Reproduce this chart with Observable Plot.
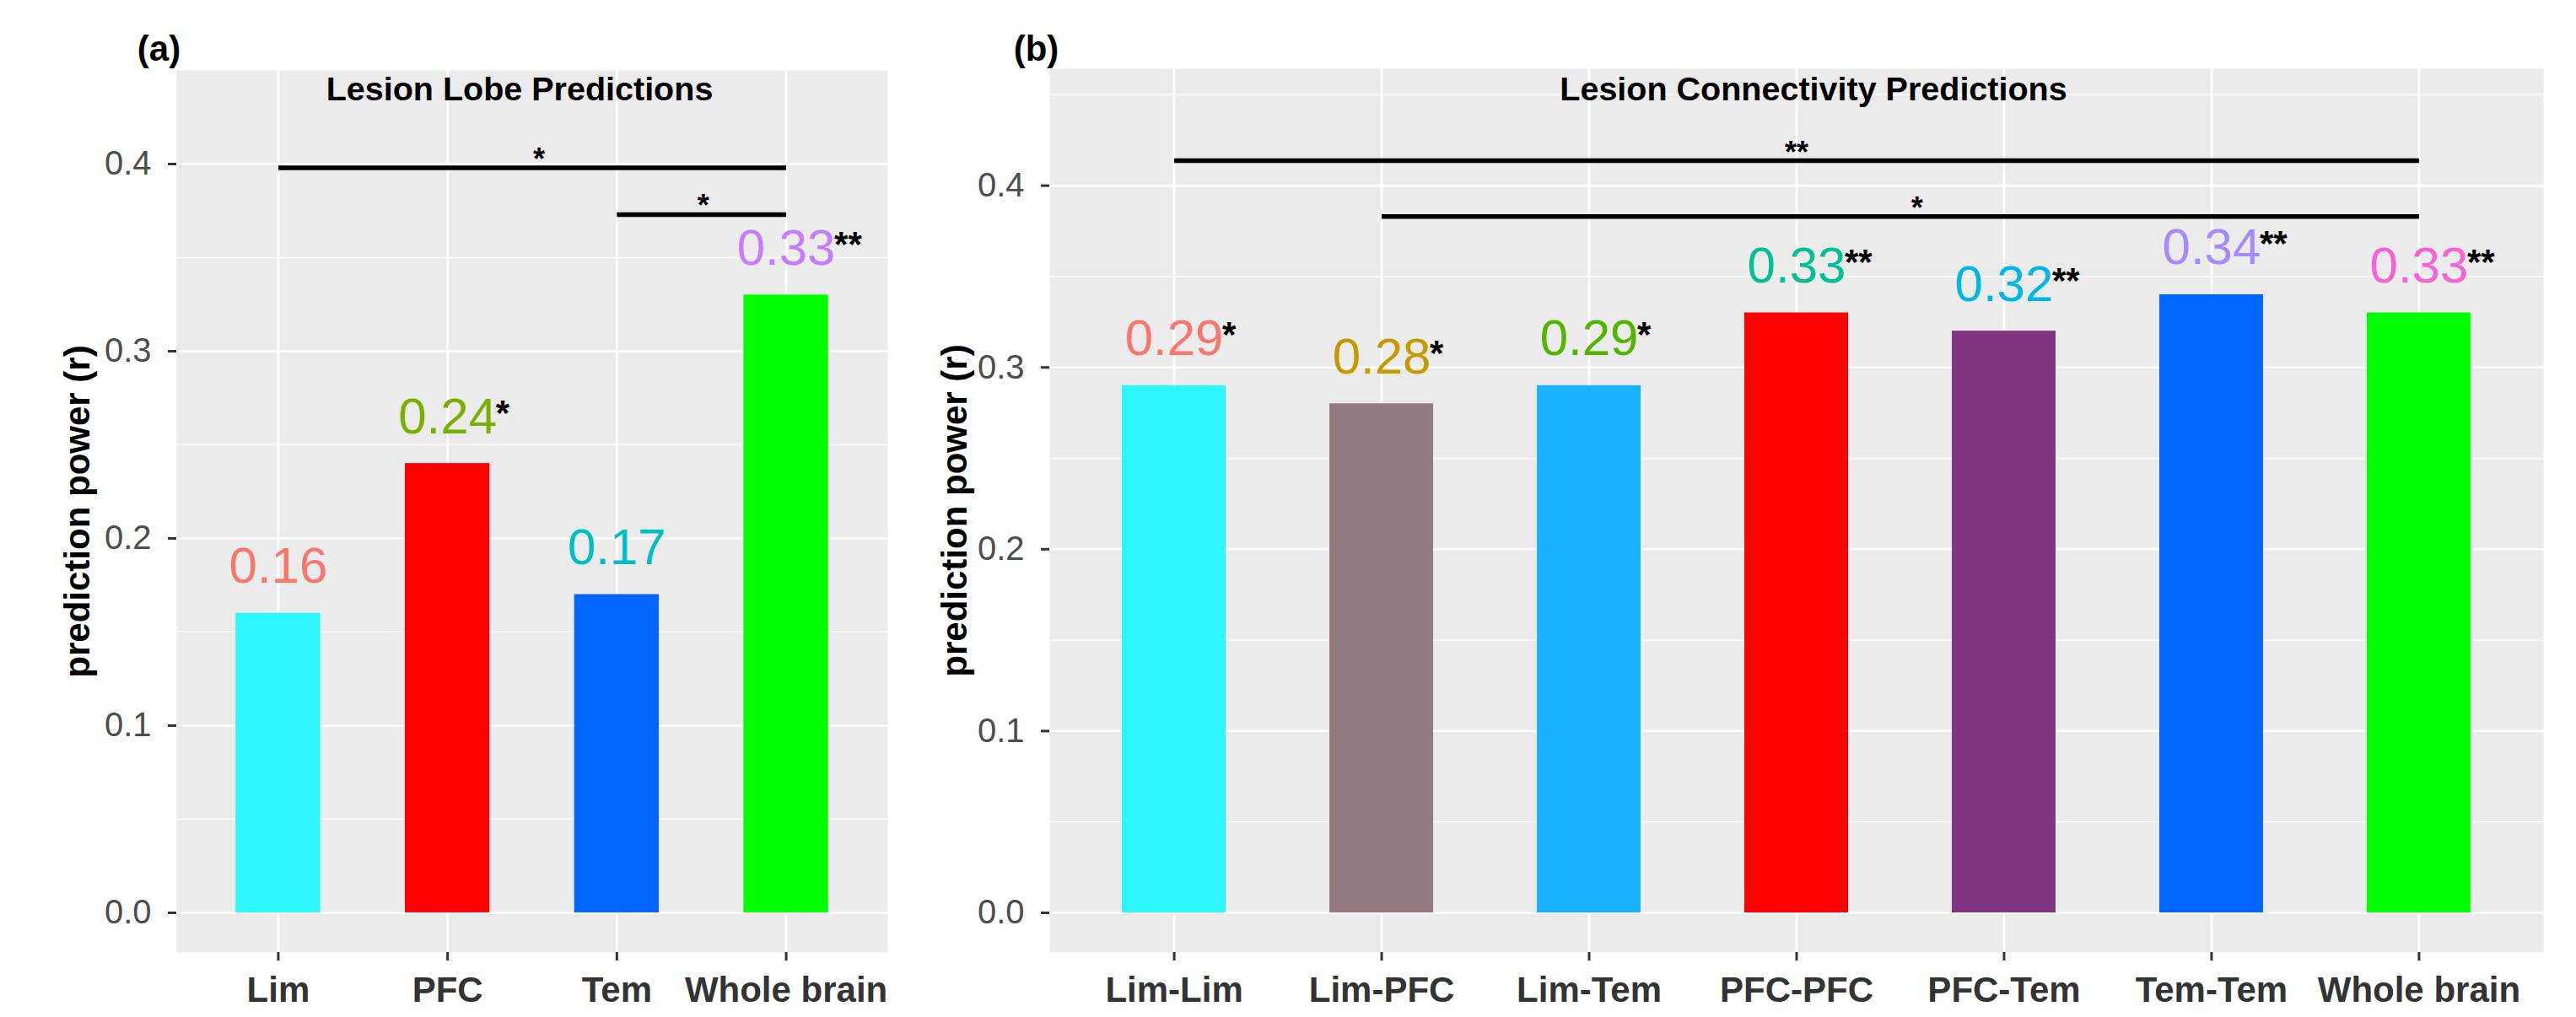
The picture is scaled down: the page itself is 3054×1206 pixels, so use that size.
<!DOCTYPE html>
<html><head><meta charset="utf-8">
<script src="https://cdn.jsdelivr.net/npm/d3@7"></script>
<script src="https://cdn.jsdelivr.net/npm/@observablehq/plot@0.6"></script>
<style>
html,body{margin:0;padding:0;background:#fff;}
#wrap{display:flex;width:3054px;height:1206px;}
#wrap svg{flex:none;}
</style></head><body><div id="wrap"></div>
<script>
// ---- Panel (a) data ----
const lobeCategories = ["Lim", "PFC", "Tem", "Whole brain"];
const lobeValues = [0.16, 0.24, 0.17, 0.33];
const lobeStars = ["", "*", "", "**"];
const lobeBarColors = ["#2DF6FF", "#FF0000", "#0066FF", "#00FF00"];
const lobeLabelColors = ["#F8766D", "#7CAE00", "#00BFC4", "#C77CFF"];
const lobeSigFrom = ["Lim", "Tem"];
const lobeSigTo = ["Whole brain", "Whole brain"];
const lobeSigY = [0.398, 0.373];
const lobeSigStars = ["*", "*"];
const lobeSigStarX = [2.54, 3.51];

// ---- Panel (b) data ----
const connCategories = ["Lim-Lim", "Lim-PFC", "Lim-Tem", "PFC-PFC", "PFC-Tem", "Tem-Tem", "Whole brain"];
const connValues = [0.29, 0.28, 0.29, 0.33, 0.32, 0.34, 0.33];
const connStars = ["*", "*", "*", "**", "**", "**", "**"];
const connBarColors = ["#2DF6FF", "#947A7E", "#19B2FF", "#FF0000", "#7F357F", "#0066FF", "#00FF00"];
const connLabelColors = ["#F8766D", "#C49A00", "#53B400", "#00C094", "#00B6EB", "#A58AFF", "#FB61D7"];
const connSigFrom = ["Lim-Lim", "Lim-PFC"];
const connSigTo = ["Whole brain", "Whole brain"];
const connSigY = [0.4137, 0.383];
const connSigStars = ["**", "*"];
const connSigStarX = [4.0, 4.58];

// ---- Axis ticks ----
const yMajorTicks = [0, 0.1, 0.2, 0.3, 0.4];
const yMinorTicks = [0.05, 0.15, 0.25, 0.35, 0.45];
const yTitle = "prediction power (r)";

const FONT = '"Liberation Sans", Arial, sans-serif';

function panel(cfg) {
  const {cats, vals, stars, barColors, labelColors, sigFrom, sigTo, sigY, sigStars, sigStarX,
         title, tag, width, marginLeft, marginRight, marginTop, yDomain,
         titleDx, titleDy, tagDx, tagDy, yTitleDx} = cfg;
  const n = cats.length;
  const data = cats.map((c, i) => ({pos: i + 1, cat: c, value: vals[i], star: stars[i], bar: barColors[i], label: labelColors[i]}));
  const sig = sigFrom.map((f, i) => ({x1: cats.indexOf(f) + 1, x2: cats.indexOf(sigTo[i]) + 1, y: sigY[i], star: sigStars[i], sx: sigStarX[i]}));
  const positions = d3.range(1, n + 1);
  return Plot.plot({
    width, height: 1206,
    marginLeft, marginRight, marginTop, marginBottom: 77,
    style: {fontFamily: FONT, background: "white", overflow: "visible"},
    x: {type: "linear", domain: [0.4, n + 0.6]},
    y: {domain: yDomain},
    color: {type: "identity"},
    marks: [
      Plot.frame({fill: "#EBEBEB", stroke: "none"}),
      Plot.gridY(yMinorTicks.filter(t => t < yDomain[1]), {stroke: "white", strokeOpacity: 1, strokeWidth: 1.3}),
      Plot.gridY(yMajorTicks, {stroke: "white", strokeOpacity: 1, strokeWidth: 2.6}),
      Plot.gridX(positions, {stroke: "white", strokeOpacity: 1, strokeWidth: 2.6}),
      Plot.rectY(data, {x1: d => d.pos - 0.25, x2: d => d.pos + 0.25, y1: 0, y2: "value", fill: "bar"}),
      Plot.text(data, {x: "pos", y: "value", text: d => d3.format(".2f")(d.value), fill: "label", fontSize: 60, lineAnchor: "bottom", dy: -36}),
      Plot.text(data, {x: "pos", y: "value", text: "star", fill: "black", fontSize: 42, fontWeight: "bold", textAnchor: "start", lineAnchor: "bottom", dx: 57, dy: -46}),
      Plot.link(sig, {x1: "x1", x2: "x2", y1: "y", y2: "y", stroke: "black", strokeWidth: 5.5, strokeLinecap: "butt"}),
      Plot.text(sig, {x: "sx", y: "y", text: "star", fill: "black", fontSize: 36, fontWeight: "bold", lineAnchor: "bottom", dy: 2}),
      Plot.axisY(yMajorTicks, {tickFormat: d3.format(".1f"), tickSize: 10, tickPadding: 20, fontSize: 40, fill: "#4D4D4D", stroke: "#333", strokeWidth: 3, label: null}),
      Plot.axisX(positions, {tickFormat: i => cats[i - 1], tickSize: 10, tickPadding: 19, fontSize: 42, fontWeight: "bold", fill: "#333", stroke: "#333", strokeWidth: 3, label: null}),
      Plot.text([title], {frameAnchor: "top", text: d => d, fill: "black", fontSize: 39.5, fontWeight: "bold", textAnchor: "middle", lineAnchor: "bottom", dx: titleDx, dy: titleDy}),
      Plot.text([tag], {frameAnchor: "top-left", text: d => d, fill: "black", fontSize: 42, fontWeight: "bold", textAnchor: "middle", lineAnchor: "bottom", dx: tagDx, dy: tagDy}),
      Plot.text([yTitle], {frameAnchor: "left", text: d => d, fill: "black", fontSize: 42, fontWeight: "bold", textAnchor: "middle", lineAnchor: "middle", rotate: -90, dx: yTitleDx})
    ]
  });
}

const plotA = panel({
  cats: lobeCategories, vals: lobeValues, stars: lobeStars, barColors: lobeBarColors, labelColors: lobeLabelColors,
  sigFrom: lobeSigFrom, sigTo: lobeSigTo, sigY: lobeSigY, sigStars: lobeSigStars, sigStarX: lobeSigStarX,
  title: "Lesion Lobe Predictions", tag: "(a)",
  width: 1090, marginLeft: 209, marginRight: 38, marginTop: 83, yDomain: [-0.0212, 0.45],
  titleDx: -15, titleDy: 35, tagDx: -21, tagDy: -12, yTitleDx: -117
});
const plotB = panel({
  cats: connCategories, vals: connValues, stars: connStars, barColors: connBarColors, labelColors: connLabelColors,
  sigFrom: connSigFrom, sigTo: connSigTo, sigY: connSigY, sigStars: connSigStars, sigStarX: connSigStarX,
  title: "Lesion Connectivity Predictions", tag: "(b)",
  width: 1964, marginLeft: 154, marginRight: 39, marginTop: 81, yDomain: [-0.0218, 0.4643],
  titleDx: 20, titleDy: 37, tagDx: -16, tagDy: -10, yTitleDx: -112
});
document.getElementById("wrap").append(plotA, plotB);
</script>
</body></html>
